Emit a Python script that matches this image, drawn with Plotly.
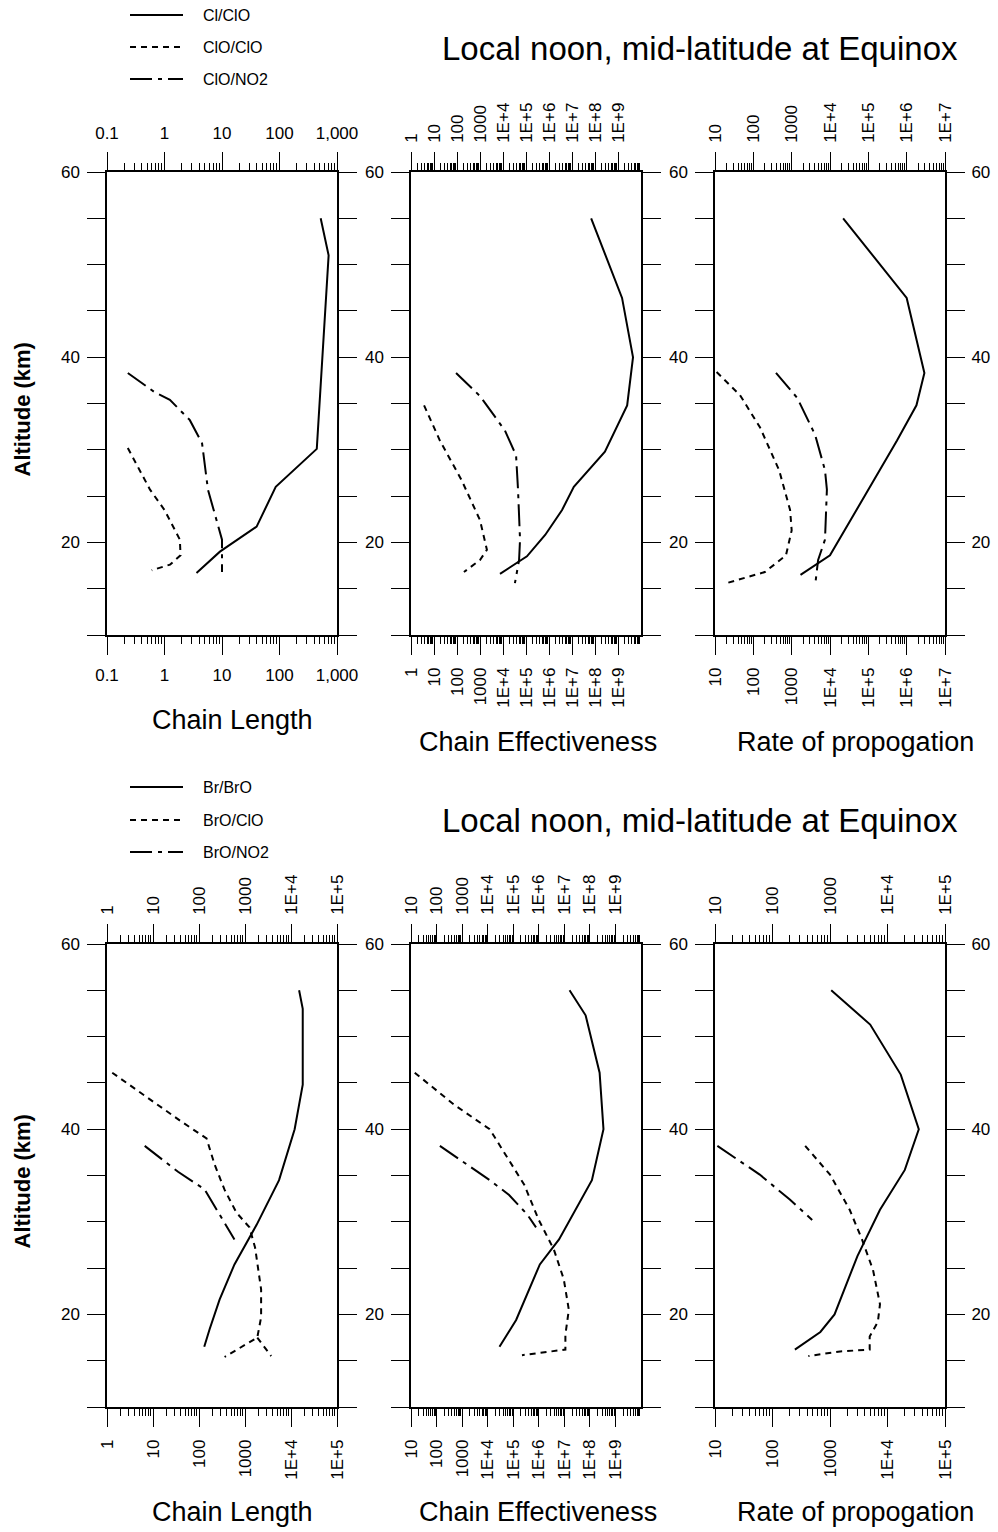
import plotly.graph_objects as go
import math

W, H = 998, 1532
FONT = "Liberation Sans, Arial, Helvetica, sans-serif"

# ---------------- data (altitude km, value) ----------------
# Top row: chlorine
tl_clclo_alt = [55.0, 51.0, 30.1, 26.0, 21.7, 20.6, 19.0, 16.7]
tl_clclo_val = [520, 715, 445, 86, 40, 22, 9.2, 3.6]
tl_cloclo_alt = [30.2, 25.7, 23.5, 20.3, 18.6, 17.6, 17.0]
tl_cloclo_val = [0.23, 0.56, 1.0, 1.85, 1.9, 1.25, 0.6]
tl_clono2_alt = [38.3, 36.2, 35.4, 33.2, 30.7, 30.2, 25.7, 20.3, 16.8]
tl_clono2_val = [0.23, 0.68, 1.24, 2.76, 4.5, 4.6, 5.7, 10, 10]

tm_clclo_alt = [55, 46.4, 40, 34.8, 29.8, 26, 23.5, 20.8, 18.5, 16.6]
tm_clclo_val = [6.8e7, 1.5e9, 4.5e9, 2.5e9, 2.7e8, 1.2e7, 3.7e6, 6.8e5, 1.1e5, 7.4e3]
tm_cloclo_alt = [34.8, 31, 26.7, 22.4, 19.2, 18.1, 16.8]
tm_cloclo_val = [3.7, 18, 160, 1000, 2000, 1000, 200]
tm_clono2_alt = [38.3, 35.8, 32.1, 29.4, 25.7, 20.3, 18.1, 15.6]
tm_clono2_val = [91, 1000, 1.2e4, 3.7e4, 4.5e4, 5.5e4, 5e4, 3.3e4]

tr_clclo_alt = [55, 46.4, 38.3, 34.8, 31, 26, 22.4, 18.6, 16.5]
tr_clclo_val = [2.2e4, 1.0e6, 2.9e6, 1.8e6, 5.6e5, 1.1e5, 3.3e4, 1.0e4, 1.7e3]
tr_cloclo_alt = [38.4, 35.9, 32.4, 27.8, 23.5, 21.3, 18.6, 16.8, 15.6]
tr_cloclo_val = [11, 45, 150, 470, 910, 1000, 710, 200, 20]
tr_clono2_alt = [38.3, 35.6, 31.6, 27.8, 25.7, 20.3, 18.1, 15.4]
tr_clono2_val = [390, 1400, 4100, 7400, 8300, 7400, 4900, 4100]

# Bottom row: bromine (None marks a break in the drawn curve)
bl_brbro_alt = [55, 53, 44.8, 40, 34.5, 29.7, 25.4, 21.6, 18.4, 16.5]
bl_brbro_val = [1.5e4, 1.8e4, 1.8e4, 1.2e4, 5.5e3, 1.8e3, 590, 280, 170, 130]
bl_brocl_alt = [46.1, 43.2, 40.8, 39.0, 36.2, 33.5, 31.0, 29.4, 27.2, 22.7, 19.7, 17.5,
                15.4, None, 17.5, 15.5]
bl_brocl_val = [1.3, 8.5, 42, 146, 218, 357, 650, 1250, 1660, 2240, 2240, 1850,
                360, None, 1850, 3700]
bl_brono2_alt = [38.2, 35.4, 33.5, 30.8, 28.1]
bl_brono2_val = [6.6, 35, 132, 280, 590]

bm_brbro_alt = [55, 52.3, 46.1, 40, 34.5, 28.1, 25.4, 22.7, 19.4, 16.5]
bm_brbro_val = [1.6e7, 6.8e7, 2.4e8, 3.4e8, 1.2e8, 6.2e6, 1.1e6, 4.2e5, 1.3e5, 2.9e4]
bm_brocl_alt = [46.1, 42.6, 40, 36.7, 34, 30.2, 27, 23.8, 20.5, 17.8, 16.2, 15.6]
bm_brocl_val = [14, 510, 1.2e4, 6.9e4, 2.7e5, 1e6, 3.9e6, 9.5e6, 1.5e7, 1.1e7, 1.1e7, 2.2e5]
bm_brono2_alt = [38.2, 36.2, 34.5, 32.9, 30.8, 29.4]
bm_brono2_val = [135, 1500, 1.2e4, 6.9e4, 3.5e5, 7.8e5]

br_brbro_alt = [55, 51.3, 45.9, 40, 35.6, 31.3, 26.3, 22.7, 20, 18.1, 16.2]
br_brbro_val = [1050, 5000, 1.7e4, 3.5e4, 2.0e4, 7.4e3, 3.0e3, 1.8e3, 1.2e3, 680, 245]
br_brocl_alt = [38.2, 35.1, 31.3, 28.1, 24.8, 21.1, 19.2, 17.6, 16.2, 16.0, 15.5]
br_brocl_val = [370, 1000, 2200, 3600, 5600, 7400, 6800, 4900, 4900, 1500, 420]
br_brono2_alt = [38.2, 35.1, 32.4, 30.2]
br_brono2_val = [11, 60, 200, 490]

top_names = ["Cl/ClO", "ClO/ClO", "ClO/NO2"]
bot_names = ["Br/BrO", "BrO/ClO", "BrO/NO2"]

alt_ticks = [10, 15, 20, 25, 30, 35, 40, 45, 50, 55, 60]
alt_labels = ["", "", "20", "", "", "", "40", "", "", "", "60"]

x_ranges = [(0.1, 1000), (1, 1e10), (10, 1e7), (1, 1e5), (10, 1e10), (10, 1e5)]
x_ticks = [
    ([0.1, 1, 10, 100, 1000], ["0.1", "1", "10", "100", "1,000"]),
    ([1, 10, 100, 1000, 1e4, 1e5, 1e6, 1e7, 1e8, 1e9],
     ["1", "10", "100", "1000", "1E+4", "1E+5", "1E+6", "1E+7", "1E+8", "1E+9"]),
    ([10, 100, 1000, 1e4, 1e5, 1e6, 1e7],
     ["10", "100", "1000", "1E+4", "1E+5", "1E+6", "1E+7"]),
    ([1, 10, 100, 1000, 1e4, 1e5], ["1", "10", "100", "1000", "1E+4", "1E+5"]),
    ([10, 100, 1000, 1e4, 1e5, 1e6, 1e7, 1e8, 1e9],
     ["10", "100", "1000", "1E+4", "1E+5", "1E+6", "1E+7", "1E+8", "1E+9"]),
    ([10, 100, 1000, 1e4, 1e5], ["10", "100", "1000", "1E+4", "1E+5"]),
]
x_angles = [0, -90, -90, -90, -90, -90]

x_titles = ["Chain Length", "Chain Effectiveness", "Rate of propogation",
            "Chain Length", "Chain Effectiveness", "Rate of propogation"]
main_title = "Local noon, mid-latitude at Equinox"

panels = [
    [(tl_clclo_alt, tl_clclo_val), (tl_cloclo_alt, tl_cloclo_val), (tl_clono2_alt, tl_clono2_val)],
    [(tm_clclo_alt, tm_clclo_val), (tm_cloclo_alt, tm_cloclo_val), (tm_clono2_alt, tm_clono2_val)],
    [(tr_clclo_alt, tr_clclo_val), (tr_cloclo_alt, tr_cloclo_val), (tr_clono2_alt, tr_clono2_val)],
    [(bl_brbro_alt, bl_brbro_val), (bl_brocl_alt, bl_brocl_val), (bl_brono2_alt, bl_brono2_val)],
    [(bm_brbro_alt, bm_brbro_val), (bm_brocl_alt, bm_brocl_val), (bm_brono2_alt, bm_brono2_val)],
    [(br_brbro_alt, br_brbro_val), (br_brocl_alt, br_brocl_val), (br_brono2_alt, br_brono2_val)],
]

# ---------------- styling / layout ----------------
dashes = ["solid", "6px,5px", "22px,6px,4px,6px"]
col_px = [(107, 337), (411, 641), (715, 945)]
row_px = [(172, 635), (944, 1407)]

def px_x(p):
    return p / W

def px_y(p):
    return 1 - p / H

def minor_vals(lo, hi):
    out = []
    n0 = int(math.floor(math.log10(lo) + 1e-9))
    n1 = int(math.ceil(math.log10(hi) - 1e-9))
    for n in range(n0, n1):
        for k in range(2, 10):
            v = k * 10 ** n
            if lo < v < hi:
                out.append(v)
    return out

fig = go.Figure()
layout = dict(
    width=W, height=H, autosize=False,
    margin=dict(l=0, r=0, t=0, b=0, pad=0, autoexpand=False),
    paper_bgcolor="white", plot_bgcolor="white",
    showlegend=False,
    font=dict(family=FONT, color="black", size=17),
)

tickfont = dict(family=FONT, size=17, color="black")

for i in range(6):
    r, c = divmod(i, 3)
    n = i + 1
    nt = i + 7
    xd = [px_x(col_px[c][0]), px_x(col_px[c][1])]
    yd = [px_y(row_px[r][1]), px_y(row_px[r][0])]
    lo, hi = x_ranges[i]
    tv, tt = x_ticks[i]
    names = top_names if r == 0 else bot_names
    for s, (alt, val) in enumerate(panels[i]):
        fig.add_trace(go.Scatter(
            x=val, y=alt, mode="lines", name=names[s], connectgaps=False,
            line=dict(color="black", width=2, dash=dashes[s]),
            xaxis=f"x{n}", yaxis=f"y{n}", showlegend=False))
    fig.add_trace(go.Scatter(x=panels[i][0][1], y=panels[i][0][0], mode="lines",
                             line=dict(width=0, color="rgba(0,0,0,0)"), hoverinfo="skip",
                             showlegend=False, xaxis=f"x{nt}", yaxis=f"y{n}"))
    common_x = dict(
        type="log", range=[math.log10(lo), math.log10(hi)], automargin=False,
        tickmode="array", tickvals=tv, ticktext=tt, tickangle=x_angles[i],
        ticks="outside", ticklen=18, tickwidth=1.3, tickcolor="black",
        showline=True, linewidth=1.5, linecolor="black",
        showgrid=False, zeroline=False, tickfont=tickfont,
        ticklabelstandoff=6,
        minor=dict(tickmode="array", tickvals=minor_vals(lo, hi), ticks="outside",
                   ticklen=7, tickwidth=1, tickcolor="black", showgrid=False),
    )
    layout[f"xaxis{n}"] = dict(common_x, domain=xd, anchor=f"y{n}", side="bottom")
    layout[f"xaxis{nt}"] = dict(common_x, domain=xd, anchor=f"y{n}", side="top",
                                overlaying=f"x{n}")
    layout[f"yaxis{n}"] = dict(
        domain=yd, range=[10, 60], anchor=f"x{n}", automargin=False,
        tickmode="array", tickvals=alt_ticks, ticktext=alt_labels,
        ticks="outside", ticklen=18, tickwidth=1.3, tickcolor="black",
        showline=True, linewidth=1.5, linecolor="black", mirror="ticks",
        showgrid=False, zeroline=False, tickfont=tickfont, ticklabelstandoff=4,
    )

for k, n in [(13, 3), (14, 6)]:
    r = 0 if n == 3 else 1
    yd = [px_y(row_px[r][1]), px_y(row_px[r][0])]
    layout[f"yaxis{k}"] = dict(
        domain=yd, range=[10, 60], anchor=f"x{n}", overlaying=f"y{n}", side="right",
        automargin=False,
        tickmode="array", tickvals=alt_ticks, ticktext=alt_labels,
        ticks="outside", ticklen=18, tickwidth=1.3, tickcolor="black",
        showline=False, showgrid=False, zeroline=False, tickfont=tickfont,
        ticklabelstandoff=4,
    )
    fig.add_trace(go.Scatter(x=panels[n - 1][0][1], y=panels[n - 1][0][0], mode="lines",
                             line=dict(width=0, color="rgba(0,0,0,0)"), hoverinfo="skip",
                             showlegend=False, xaxis=f"x{n}", yaxis=f"y{k}"))

fig.update_layout(**layout)

# ---------------- annotations / legend ----------------
ann = []
shapes = []
title_font = dict(family=FONT, size=33, color="black")
axt_font = dict(family=FONT, size=27, color="black")

for r, (ty, legend_y, names) in enumerate([(48, (15, 47, 79), top_names),
                                          (820, (787, 820, 852), bot_names)]):
    ann.append(dict(text=main_title, x=px_x(700), y=px_y(ty), xref="paper", yref="paper",
                    xanchor="center", yanchor="middle", showarrow=False, font=title_font))
    for s in range(3):
        ly = px_y(legend_y[s])
        shapes.append(dict(type="line", xref="paper", yref="paper",
                           x0=px_x(130), x1=px_x(183), y0=ly, y1=ly,
                           line=dict(color="black", width=2, dash=dashes[s])))
        ann.append(dict(text=names[s], x=px_x(201), y=ly, xref="paper", yref="paper",
                        xanchor="left", yanchor="middle", showarrow=False,
                        font=dict(family=FONT, size=16, color="black")))
    row_mid = (row_px[r][0] + row_px[r][1]) / 2
    ann.append(dict(text="<b>Altitude (km)</b>", x=px_x(22), y=px_y(row_mid + 6), xref="paper",
                    yref="paper", xanchor="center", yanchor="middle", textangle=-90,
                    showarrow=False, font=dict(family=FONT, size=22, color="black")))

x_title_y = [720, 742, 742, 1512, 1512, 1512]
x_title_cx = [232, 538, 855, 232, 538, 855]
for i in range(6):
    ann.append(dict(text=x_titles[i], x=px_x(x_title_cx[i]), y=px_y(x_title_y[i]),
                    xref="paper", yref="paper", xanchor="center", yanchor="middle",
                    showarrow=False, font=axt_font))

fig.update_layout(annotations=ann, shapes=shapes)

fig.write_html("out.html", config={"displayModeBar": False},
               post_script="document.body.style.margin='0';document.body.style.overflow='hidden';")
